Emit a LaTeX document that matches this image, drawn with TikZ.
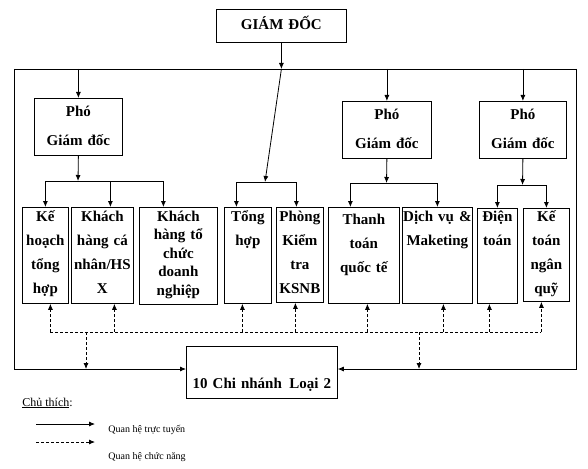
\documentclass[tikz,border=0pt]{standalone}
\usepackage{fontspec}
\setmainfont{Liberation Serif}
\usetikzlibrary{arrows.meta}

\begin{document}
\begin{tikzpicture}[x=1pt, y=-1pt, line width=0.8pt,
  unit/.style={draw, inner sep=0pt, align=center, text width=#1, text height=14pt, text depth=82pt, font=\fontsize{15}{24}\selectfont\bfseries, anchor=north west},
  pgd/.style={draw, inner sep=0pt, align=center, text width=#1, text height=18.5pt, text depth=38pt, font=\fontsize{15}{29}\selectfont\bfseries, anchor=north west},
  arr/.style={-{Latex[length=6pt,width=5pt]}},
  dline/.style={dash pattern=on 3pt off 2pt},
  darr/.style={dline, arr},
  note/.style={anchor=base west, inner sep=0pt}]
\useasboundingbox (0,0) rectangle (588,468);

% top level
\node[draw, inner sep=0pt, text width=130pt, align=center, text height=20pt, text depth=13pt, font=\fontsize{15}{18}\selectfont\bfseries, anchor=north west] (gd) at (216,9) {GIÁM ĐỐC};
\node[pgd=88pt] (pgd1) at (34,98) {Phó\\Giám đốc};
\node[pgd=89pt] (pgd2) at (342,101) {Phó\\Giám đốc};
\node[pgd=87pt] (pgd3) at (479,101) {Phó\\Giám đốc};

% departments
\node[unit=46pt] (khth) at (22,207) {Kế\\hoạch\\tổng\\hợp};
\node[unit=62pt] (khcn) at (71,207) {Khách\\hàng cá\\nhân/HS\\X};
\node[unit=78pt, font=\fontsize{15}{18.5}\selectfont\bfseries, text depth=83pt] (khdn) at (139,207) {Khách\\hàng tổ\\chức\\doanh\\nghiệp};
\node[unit=47pt] (tong) at (224,207) {Tổng\\hợp};
\node[unit=47pt, text depth=81pt] (ksnb) at (276,207) {Phòng\\Kiểm\\tra\\KSNB};
\node[unit=71pt, text height=17pt, text depth=79pt] (ttqt) at (328,207) {Thanh\\toán\\quốc tế};
\node[unit=70pt] (dvmk) at (402,207) {Dịch vụ \&\\Maketing};
\node[unit=40pt, text height=13pt, text depth=82pt] (dien) at (477,208) {Điện\\toán};
\node[unit=46pt, text height=13pt, text depth=80pt] (ktnq) at (523,208) {Kế\\toán\\ngân\\quỹ};

\node[draw, inner sep=0pt, text width=151pt, align=center, text height=42pt, text depth=10pt, font=\fontsize{15}{18}\selectfont\bfseries, anchor=north west] (cn) at (186,346) {10 Chi nhánh\enspace Loại 2};

% frame
\coordinate (tl) at (14,69);
\coordinate (tr) at (576,69);
\coordinate (bl) at (14,369);
\coordinate (br) at (576,369);
\draw (tl) -- (tr);
\draw[arr] (tl) -- (bl) -- (bl -| cn.west);
\draw[arr] (tr) -- (br) -- (br -| cn.east);
\foreach \p in {pgd1,pgd2,pgd3}
  \draw[arr] (\p.north |- tl) -- (\p.north);

% line links
\coordinate (b1) at (78,181);
\coordinate (b2) at (265,182);
\coordinate (b3) at (386.5,183);
\coordinate (b4) at (522.5,185);
\draw[arr] (gd.south) -- (gd.south |- tl);
\draw[arr] (gd.south |- tl) -- (b2);
\draw[arr] (pgd1.south) -- (b1);
\draw[arr] (pgd2.south) -- (b3);
\draw[arr] (pgd3.south) -- (b4);
\draw[arr] (b1) -| (khth.north);
\draw[arr] (b1) -| ([xshift=8pt]khcn.north);
\draw[arr] (b1) -| ([xshift=-15pt]khdn.north);
\draw[arr] (b2) -| ([xshift=-11.5pt]tong.north);
\draw[arr] (b2) -| ([xshift=-3.5pt]ksnb.north);
\draw[arr] (b3) -| ([xshift=-13.5pt]ttqt.north);
\draw[arr] (b3) -| (dvmk.north);
\draw[arr] (b4) -| (dien.north);
\draw[arr] (b4) -| (ktnq.north);

% functional links
\coordinate (dl) at (50,332);
\coordinate (dr) at (541,332);
\draw[dline] (dl) -- (dr);
\foreach \n/\s in {khth/5, khcn/12, tong/-5.5, ksnb/-4.5, ttqt/3.5, dvmk/6, dien/-8, ktnq/-5}{
  \path ([xshift=\s pt]\n.south) coordinate (up);
  \draw[darr] (up |- dl) -- (up);
}
\coordinate (d1) at (86,332);
\coordinate (d2) at (419,332);
\foreach \d in {d1,d2}
  \draw[darr] (\d) -- (\d |- bl);

% legend
\node[note, font=\fontsize{12}{14}\selectfont] (chu) at (22,406) {\underline{Chủ thích}:};
\coordinate (l1a) at (36,424);
\coordinate (l1b) at (95,424);
\coordinate (l2a) at (36,442);
\coordinate (l2b) at (95,442);
\draw[arr] (l1a) -- (l1b);
\draw[darr] (l2a) -- (l2b);
\node[note, font=\fontsize{10}{12}\selectfont] (tt1) at (108,432) {Quan hệ trực tuyến};
\node[note, font=\fontsize{10}{12}\selectfont] (tt2) at (108,459) {Quan hệ chức năng};
\end{tikzpicture}
\end{document}
